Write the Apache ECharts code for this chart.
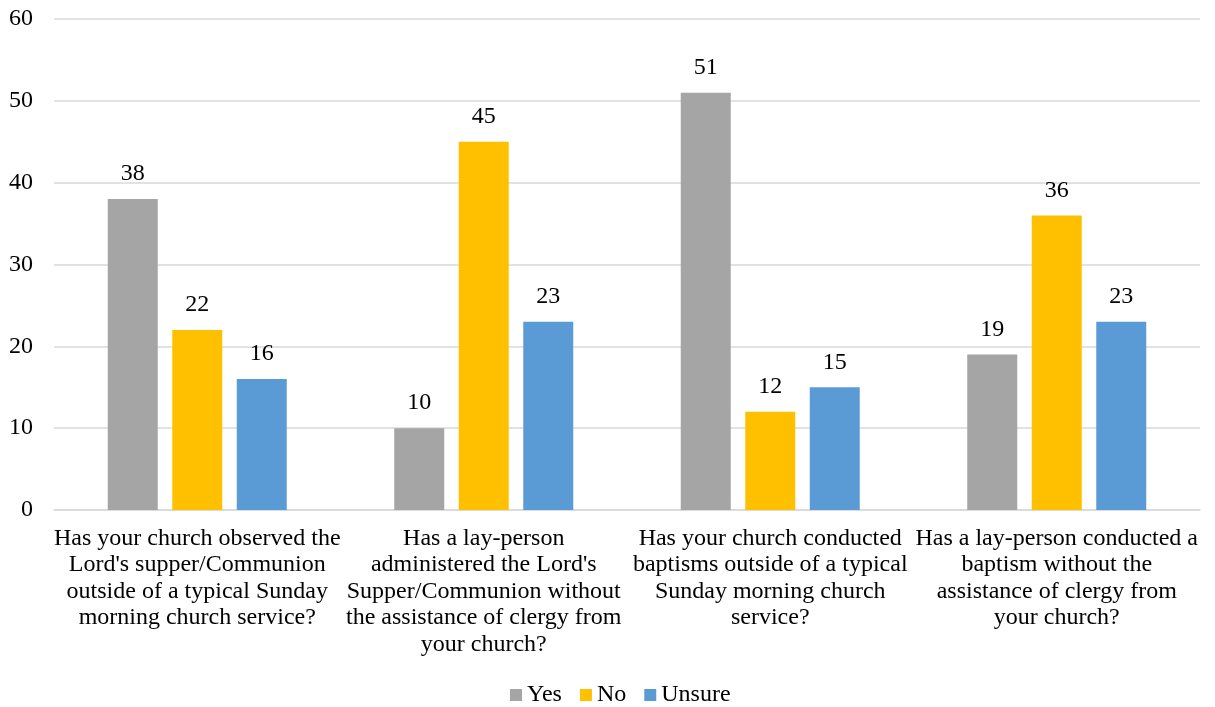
<!DOCTYPE html>
<html>
<head>
<meta charset="utf-8">
<script src="https://cdn.jsdelivr.net/npm/echarts@6/dist/echarts.min.js"></script>
<style>
html,body{margin:0;padding:0;background:#fff;}
#chart{width:1215px;height:707px;}
</style>
</head>
<body>
<div id="chart"></div>
<script>
const categories = [
  "Has your church observed the\nLord's supper/Communion\noutside of a typical Sunday\nmorning church service?",
  "Has a lay-person\nadministered the Lord's\nSupper/Communion without\nthe assistance of clergy from\nyour church?",
  "Has your church conducted\nbaptisms outside of a typical\nSunday morning church\nservice?",
  "Has a lay-person conducted a\nbaptism without the\nassistance of clergy from\nyour church?"
];
const yesValues = [38, 10, 51, 19];
const noValues = [22, 45, 12, 36];
const unsureValues = [16, 23, 15, 23];
const seriesNames = ["Yes", "No", "Unsure"];
const colors = ["#A5A5A5", "#FFC000", "#5B9BD5"];

const font = "'Liberation Serif', 'Times New Roman', serif";
const chart = echarts.init(document.getElementById('chart'));
const mk = (name, data, color) => ({
  name: name,
  type: 'bar',
  data: data,
  barWidth: 50,
  barGap: '29%',
  itemStyle: { color: color },
  label: {
    show: true,
    position: 'top',
    distance: 13,
    fontFamily: font,
    fontSize: 24,
    color: '#000'
  }
});
chart.setOption({
  animation: false,
  textStyle: { fontFamily: font },
  grid: { left: 54, right: 15, top: 19, bottom: 197, containLabel: false },
  legend: {
    top: 683,
    left: 510,
    padding: 0,
    itemWidth: 12,
    itemHeight: 12,
    itemGap: 18,
    icon: 'rect',
    textStyle: { fontFamily: font, fontSize: 24, color: '#000' },
    data: seriesNames
  },
  xAxis: {
    type: 'category',
    data: categories,
    axisTick: { show: false },
    axisLine: { lineStyle: { color: '#d9d9d9', width: 1.5 } },
    axisLabel: {
      interval: 0,
      margin: 15,
      fontFamily: font,
      fontSize: 24,
      lineHeight: 26.6,
      color: '#000',
      align: 'center'
    }
  },
  yAxis: {
    type: 'value',
    min: 0,
    max: 60,
    interval: 10,
    axisLine: { show: false },
    axisTick: { show: false },
    splitLine: { lineStyle: { color: '#d9d9d9', width: 1.5 } },
    axisLabel: { fontFamily: font, fontSize: 24, color: '#000', margin: 21 }
  },
  series: [
    mk(seriesNames[0], yesValues, colors[0]),
    mk(seriesNames[1], noValues, colors[1]),
    mk(seriesNames[2], unsureValues, colors[2])
  ]
});
</script>
</body>
</html>
